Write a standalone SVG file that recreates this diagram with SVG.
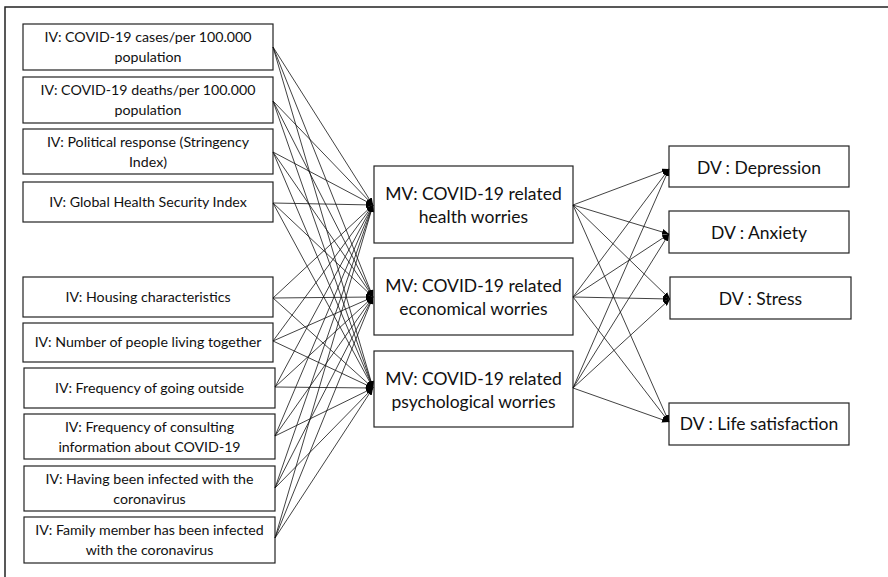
<svg xmlns="http://www.w3.org/2000/svg" width="888" height="577" viewBox="0 0 888 577">
<defs>
<marker id="ah" markerUnits="userSpaceOnUse" markerWidth="8" markerHeight="6" refX="7" refY="3" orient="auto">
<path d="M0,0 L7,3 L0,6 z" fill="#000"/>
</marker>
<style>
.bx{fill:#fff;stroke:#222;stroke-width:1.2}
.iv{font-family:Lato,"Liberation Sans",sans-serif;font-size:14.2px;fill:#111;text-anchor:middle}
.mv{font-family:Lato,"Liberation Sans",sans-serif;font-size:17.5px;fill:#111;text-anchor:middle}
.cn line{stroke:#111;stroke-width:0.8;marker-end:url(#ah)}
</style>
</defs>
<rect width="888" height="577" fill="#fff"/>
<path d="M888,7 H5 V577" fill="none" stroke="#222" stroke-width="1.5"/>

<g id="iv1"><rect class="bx" x="23" y="24" width="250" height="46"/><text class="iv" x="148" y="42">IV: COVID-19 cases/per 100.000</text><text class="iv" x="148" y="62">population</text></g>
<g id="iv2"><rect class="bx" x="23" y="77" width="250" height="46"/><text class="iv" x="148" y="95">IV: COVID-19 deaths/per 100.000</text><text class="iv" x="148" y="115">population</text></g>
<g id="iv3"><rect class="bx" x="23" y="129" width="250" height="45"/><text class="iv" x="148" y="147">IV: Political response (Stringency</text><text class="iv" x="148" y="167">Index)</text></g>
<g id="iv4"><rect class="bx" x="23" y="182" width="250" height="40"/><text class="iv" x="148" y="207">IV: Global Health Security Index</text></g>
<g id="iv5"><rect class="bx" x="23" y="277" width="250" height="40"/><text class="iv" x="148" y="302">IV: Housing characteristics</text></g>
<g id="iv6"><rect class="bx" x="23" y="323" width="250" height="39"/><text class="iv" x="148" y="347">IV: Number of people living together</text></g>
<g id="iv7"><rect class="bx" x="24" y="368" width="251" height="40"/><text class="iv" x="149.5" y="393">IV: Frequency of going outside</text></g>
<g id="iv8"><rect class="bx" x="24" y="414" width="251" height="45"/><text class="iv" x="149.5" y="432">IV: Frequency of consulting</text><text class="iv" x="149.5" y="452">information about COVID-19</text></g>
<g id="iv9"><rect class="bx" x="24" y="466" width="251" height="45"/><text class="iv" x="149.5" y="484">IV: Having been infected with the</text><text class="iv" x="149.5" y="504">coronavirus</text></g>
<g id="iv10"><rect class="bx" x="24" y="517" width="251" height="46"/><text class="iv" x="149.5" y="535">IV: Family member has been infected</text><text class="iv" x="149.5" y="555">with the coronavirus</text></g>

<g id="mv1"><rect class="bx" x="374" y="166" width="199" height="77"/><text class="mv" x="473.5" y="200">MV: COVID-19 related</text><text class="mv" x="473.5" y="223">health worries</text></g>
<g id="mv2"><rect class="bx" x="374" y="258" width="199" height="77"/><text class="mv" x="473.5" y="292">MV: COVID-19 related</text><text class="mv" x="473.5" y="315">economical worries</text></g>
<g id="mv3"><rect class="bx" x="374" y="351" width="199" height="76"/><text class="mv" x="473.5" y="385">MV: COVID-19 related</text><text class="mv" x="473.5" y="408">psychological worries</text></g>

<g id="dv1"><rect class="bx" x="669" y="146" width="180" height="41"/><text class="mv" x="759" y="174">DV : Depression</text></g>
<g id="dv2"><rect class="bx" x="669" y="211" width="180" height="42"/><text class="mv" x="759" y="239">DV : Anxiety</text></g>
<g id="dv3"><rect class="bx" x="670" y="277" width="181" height="42"/><text class="mv" x="760.5" y="305">DV : Stress</text></g>
<g id="dv4"><rect class="bx" x="669" y="403" width="180" height="42"/><text class="mv" x="759" y="430">DV : Life satisfaction</text></g>

<g id="connectors" class="cn">
<line x1="273" y1="47" x2="373" y2="205"/><line x1="273" y1="47" x2="373" y2="297"/><line x1="273" y1="47" x2="373" y2="388"/>
<line x1="273" y1="101" x2="373" y2="205"/><line x1="273" y1="101" x2="373" y2="297"/><line x1="273" y1="101" x2="373" y2="388"/>
<line x1="273" y1="152" x2="373" y2="205"/><line x1="273" y1="152" x2="373" y2="297"/><line x1="273" y1="152" x2="373" y2="388"/>
<line x1="273" y1="203" x2="373" y2="205"/><line x1="273" y1="203" x2="373" y2="297"/><line x1="273" y1="203" x2="373" y2="388"/>
<line x1="273" y1="298" x2="373" y2="205"/><line x1="273" y1="298" x2="373" y2="297"/><line x1="273" y1="298" x2="373" y2="388"/>
<line x1="273" y1="341" x2="373" y2="205"/><line x1="273" y1="341" x2="373" y2="297"/><line x1="273" y1="341" x2="373" y2="388"/>
<line x1="275" y1="387" x2="373" y2="205"/><line x1="275" y1="387" x2="373" y2="297"/><line x1="275" y1="387" x2="373" y2="388"/>
<line x1="275" y1="436" x2="373" y2="205"/><line x1="275" y1="436" x2="373" y2="297"/><line x1="275" y1="436" x2="373" y2="388"/>
<line x1="275" y1="488" x2="373" y2="205"/><line x1="275" y1="488" x2="373" y2="297"/><line x1="275" y1="488" x2="373" y2="388"/>
<line x1="275" y1="538" x2="373" y2="205"/><line x1="275" y1="538" x2="373" y2="297"/><line x1="275" y1="538" x2="373" y2="388"/>
<line x1="573" y1="205" x2="669" y2="169"/><line x1="573" y1="205" x2="669" y2="234"/><line x1="573" y1="205" x2="670" y2="299"/><line x1="573" y1="205" x2="669" y2="422"/>
<line x1="573" y1="297" x2="669" y2="169"/><line x1="573" y1="297" x2="669" y2="234"/><line x1="573" y1="297" x2="670" y2="299"/><line x1="573" y1="297" x2="669" y2="422"/>
<line x1="573" y1="388" x2="669" y2="169"/><line x1="573" y1="388" x2="669" y2="234"/><line x1="573" y1="388" x2="670" y2="299"/><line x1="573" y1="388" x2="669" y2="422"/>
</g>
</svg>
